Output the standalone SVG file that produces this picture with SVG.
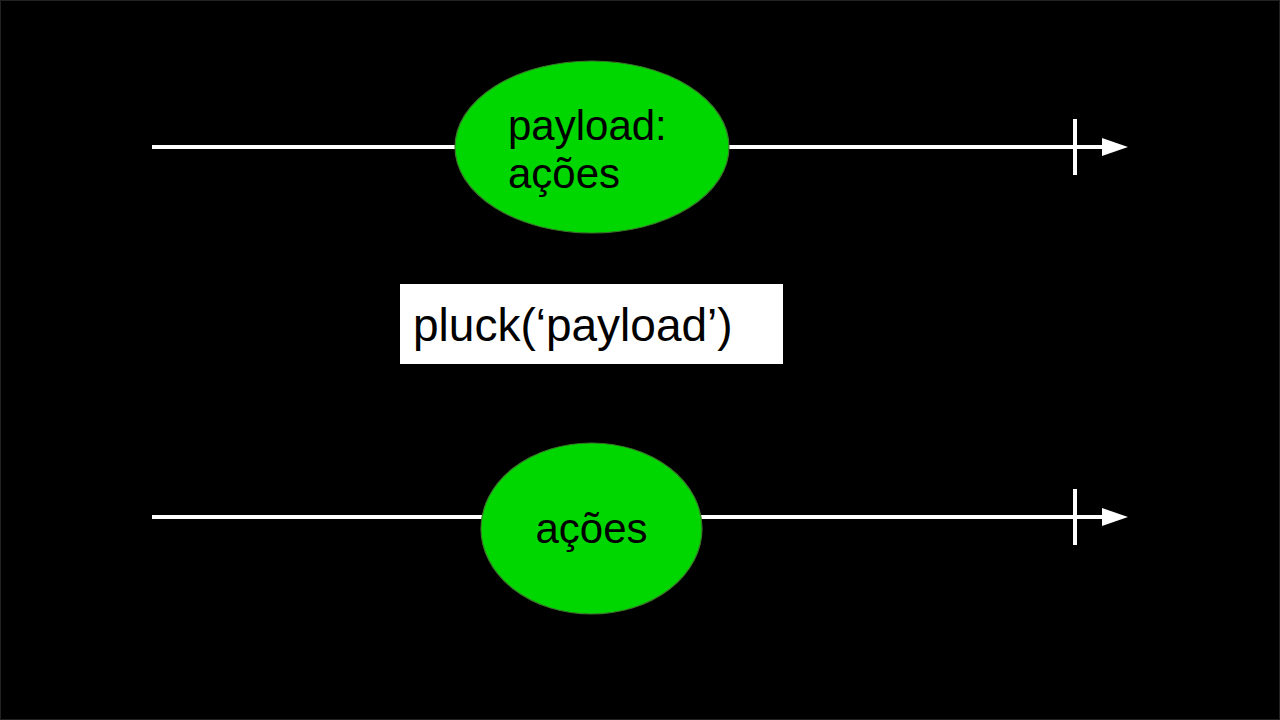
<svg xmlns="http://www.w3.org/2000/svg" width="1280" height="720" viewBox="0 0 1280 720">
<style>
.ln{stroke:#fff;stroke-width:4;fill:none}
.node{fill:#00d700;stroke:#3a7a2a;stroke-width:1.2}
.t{font-family:"Liberation Sans",Arial,sans-serif;font-size:42px;fill:#000}
</style>
<defs>
<marker id="ah" markerUnits="userSpaceOnUse" markerWidth="28" markerHeight="20" refX="8" refY="9" orient="auto"><path d="M0,0 L26,9 L0,18 Z" fill="#fff"/></marker>
</defs>
<rect x="0" y="0" width="1280" height="720" fill="#000"/>
<rect x="0.5" y="0.5" width="1279" height="719" fill="none" stroke="#222" stroke-width="1"/>
<g id="connectors">
<line class="ln" x1="152" y1="147" x2="1110" y2="147" marker-end="url(#ah)"/>
<line class="ln" x1="1075" y1="119" x2="1075" y2="175"/>
<line class="ln" x1="152" y1="517" x2="1110" y2="517" marker-end="url(#ah)"/>
<line class="ln" x1="1075" y1="489" x2="1075" y2="545"/>
</g>
<g id="node-top">
<ellipse class="node" cx="592" cy="147" rx="137" ry="86"/>
<text class="t" x="508" y="140">payload:</text>
<text class="t" x="508" y="188">ações</text>
</g>
<g id="operator">
<rect x="400" y="284" width="383" height="80" fill="#fff"/>
<text class="t" x="413" y="341" style="font-size:46px">pluck(‘payload’)</text>
</g>
<g id="node-bottom">
<ellipse class="node" cx="591.5" cy="528.5" rx="110.5" ry="85.5"/>
<text class="t" x="591.5" y="543" text-anchor="middle">ações</text>
</g>
</svg>
